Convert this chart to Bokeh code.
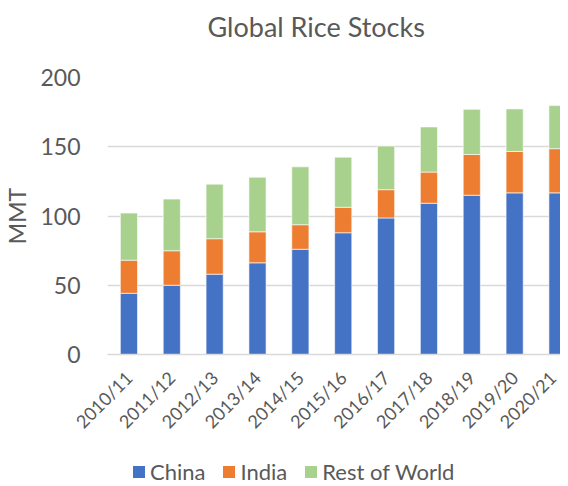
import math
from bokeh.plotting import figure
from bokeh.layouts import column
from bokeh.models import ColumnDataSource, Range1d, FixedTicker, Legend, LegendItem, Title
from bokeh.embed import file_html
from bokeh.resources import INLINE

seasons = ["2010/11", "2011/12", "2012/13", "2013/14", "2014/15", "2015/16",
           "2016/17", "2017/18", "2018/19", "2019/20", "2020/21"]
china = [44.2, 50.0, 58.0, 66.2, 76.0, 87.9, 98.6, 109.2, 115.0, 116.7, 116.7]
india = [23.9, 24.9, 25.6, 22.4, 17.7, 18.4, 20.4, 22.5, 29.4, 29.9, 31.9]
rest_of_world = [34.0, 37.3, 39.4, 39.4, 41.8, 36.2, 31.5, 32.6, 32.6, 30.7, 31.1]
series_names = ["China", "India", "Rest of World"]
series_colors = ["#4472C4", "#ED7D31", "#A9D18E"]
y_ticks = [0, 50, 100, 150, 200]

FONT = "Lato"
TXT = "#595959"
GRID = "#d9d9d9"

xs = list(range(len(seasons)))
src = ColumnDataSource(dict(x=xs, China=china, India=india, Rest=rest_of_world))

p = figure(width=560, height=451, output_backend="svg", toolbar_location=None,
           x_range=Range1d(-0.5, 10.07), y_range=Range1d(0, 200),
           min_border_left=100, min_border_right=0, min_border_top=71,
           min_border_bottom=97)

renderers = p.vbar_stack(["China", "India", "Rest"], x="x", width=0.4, source=src,
                         color=series_colors, line_color="white", line_width=0.6)

# spacer nearest the frame, then the visible title above it
p.add_layout(Title(text=" ", text_font_size="1px", standoff=25), "above")
p.add_layout(Title(text="Global Rice Stocks", text_font=FONT, text_font_size="27px",
                   text_color=TXT, text_font_style="normal", align="left",
                   offset=100, standoff=14), "above")

p.outline_line_color = None
p.background_fill_color = "white"
p.border_fill_color = "white"

p.xgrid.grid_line_color = None
p.ygrid.grid_line_color = GRID
p.ygrid.grid_line_width = 1.5
p.ygrid.ticker = FixedTicker(ticks=y_ticks)

yax = p.yaxis[0]
yax.ticker = FixedTicker(ticks=y_ticks)
yax.axis_line_color = None
yax.major_tick_line_color = None
yax.minor_tick_line_color = None
yax.major_tick_out = 0
yax.major_tick_in = 0
yax.major_label_standoff = 27
yax.major_label_text_font = FONT
yax.major_label_text_font_size = "23px"
yax.major_label_text_color = TXT
yax.axis_label = "MMT"
yax.axis_label_text_font = FONT
yax.axis_label_text_font_size = "23px"
yax.axis_label_text_font_style = "normal"
yax.axis_label_text_color = TXT
yax.axis_label_standoff = 6

xax = p.xaxis[0]
xax.ticker = FixedTicker(ticks=xs)
xax.major_label_overrides = {i: s for i, s in zip(xs, seasons)}
xax.major_label_orientation = math.pi / 4
xax.axis_line_color = GRID
xax.axis_line_width = 1.5
xax.major_tick_line_color = None
xax.minor_tick_line_color = None
xax.major_tick_out = 0
xax.major_tick_in = 0
xax.major_label_standoff = 20
xax.major_label_text_font = FONT
xax.major_label_text_font_size = "18px"
xax.major_label_text_color = TXT

# legend strip below the chart (zero-height key bars, nothing visible in the strip)
lg = figure(width=560, height=34, output_backend="svg", toolbar_location=None,
            x_range=Range1d(0, 1), y_range=Range1d(0, 1),
            x_axis_location=None, y_axis_location=None, min_border=0,
            min_border_left=0, min_border_right=0, min_border_top=0, min_border_bottom=0)
lg.outline_line_color = None
lg.xgrid.visible = False
lg.ygrid.visible = False
keys = [lg.vbar(x="x", top=0, bottom=0, width=0.4, source=src, fill_color=c, line_color=None)
        for c in series_colors]
items = [LegendItem(label=n, renderers=[r]) for n, r in zip(series_names, keys)]
legend = Legend(items=items, orientation="horizontal", location=(24, 0),
                glyph_width=15, glyph_height=15, label_standoff=4, spacing=16,
                padding=0, margin=0, border_line_color=None, background_fill_alpha=0,
                label_text_font=FONT, label_text_font_size="22px", label_text_color=TXT)
lg.add_layout(legend, "center")

page = column(p, lg, spacing=0)
open("out.html", "w").write(file_html(page, INLINE))
